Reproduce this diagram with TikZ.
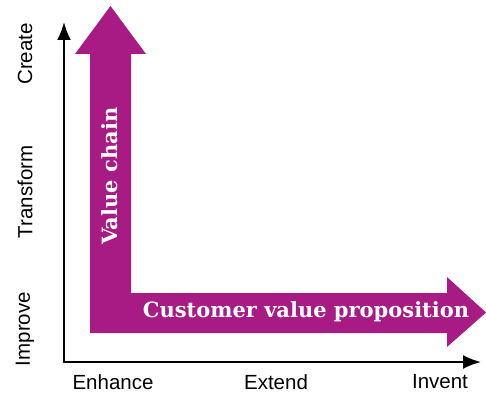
\documentclass[tikz,border=0pt]{standalone}
\usepackage{fontspec}
\usetikzlibrary{arrows.meta}
\newfontfamily\axisfont{Liberation Sans}
\newfontfamily\slabfont{DejaVu Serif}
\definecolor{valuepurple}{RGB}{168,26,132}

\begin{document}
\begin{tikzpicture}[line cap=round,line join=round,x=1pt,y=-1pt,
		axis/.style={line width=2pt,-{Latex[length=18pt,width=14pt]}},
		axislabel/.style={font=\axisfont\fontsize{20.5}{22}\selectfont,inner sep=0pt},
		bandlabel/.style={font=\slabfont\bfseries\fontsize{21}{23}\selectfont,text=white,inner sep=0pt}]
				\useasboundingbox (0,0) rectangle (486,393);
				% purple L shaped double arrow
				\fill [valuepurple] (90,333) -- (447,333) -- (447,347) -- (486,312.5) -- (447,277) -- (447,293)
					-- (131,293) -- (131,54) -- (146,54) -- (110.5,6) -- (75,54) -- (90,54) -- cycle;
				\node[bandlabel,rotate=90] (chain) at (110,176) {Value chain};
				\node[bandlabel] (proposition) at (306,312) {Customer value proposition};
				% axes
				\coordinate (origin) at (64,362);
				\coordinate (ytop) at (64,22);
				\coordinate (xright) at (481,362);
				\draw [axis] (origin) -- (ytop);
				\draw [axis] (origin) -- (xright);
				\node[axislabel,rotate=90] (improve) at (25,329) {Improve};
				\node[axislabel,rotate=90] (transform) at (25,192) {Transform};
				\node[axislabel,rotate=90] (create) at (25,54) {Create};
				\node[axislabel] (enhance) at (113,382) {Enhance};
				\node[axislabel] (extend) at (276,382) {Extend};
				\node[axislabel] (invent) at (440,382) {Invent};
			\end{tikzpicture}
\end{document}
